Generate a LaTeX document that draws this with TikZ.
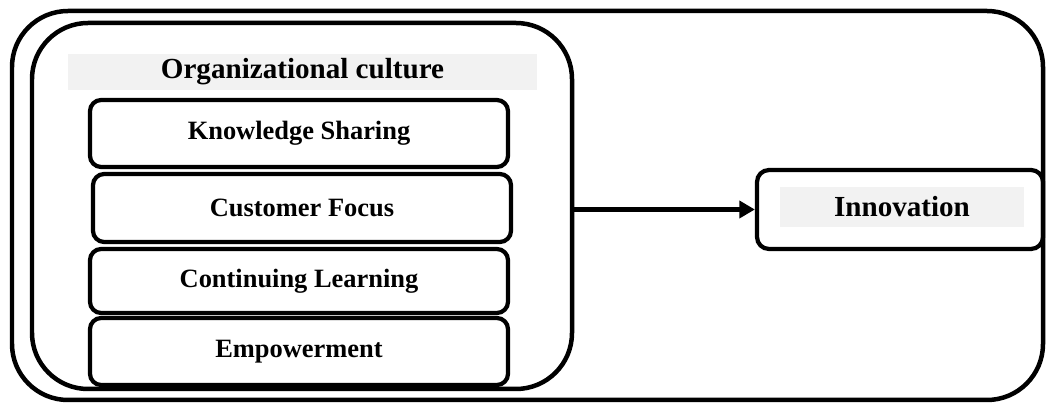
\documentclass[tikz,border=0pt]{standalone}
\usepackage{fontspec}
\setmainfont{Liberation Serif}
\usetikzlibrary{arrows.meta}
\definecolor{bandgray}{HTML}{F2F2F2}

\begin{document}
\begin{tikzpicture}[
	every node/.style={font=\bfseries},
	frame/.style={draw, line width=3.2pt, rounded corners=1.4cm},
	factor/.style={draw, line width=3pt, rounded corners=0.28cm, minimum width=10.45cm, font=\fontsize{18.8}{22}\bfseries},
	band/.style={fill=bandgray, font=\fontsize{20.7}{24}\bfseries}]

	\useasboundingbox (0,0) rectangle (26.15,10.075);

	\node[frame, minimum width=25.775cm, minimum height=9.725cm] (model) at (13.1875,4.9375) {};
	\node[frame, minimum width=13.5cm, minimum height=9.15cm] (culture) at (7.55,4.925) {};

	\node[band, minimum width=11.725cm, minimum height=0.85cm] (title) at (7.5625,8.275) {Organizational culture};

	\node[factor, minimum height=1.675cm] (sharing) at (7.475,6.7375) {Knowledge Sharing};
	\node[factor, minimum height=1.7cm] (customer) at (7.55,4.875) {Customer Focus};
	\node[factor, minimum height=1.6cm] (learning) at (7.475,3.05) {Continuing Learning};
	\node[factor, minimum height=1.675cm] (empower) at (7.475,1.2875) {Empowerment};

	\node[draw, line width=3pt, rounded corners=0.3cm, minimum width=7.15cm, minimum height=1.975cm] (innov) at (22.5,4.8375) {};
	\node[band, minimum width=6.1cm, minimum height=1cm] (innovtext) at (22.55,4.9) {Innovation};

	\draw[line width=3pt, -{Triangle[length=11pt,width=12pt]}] (culture.east |- innov.west) -- (innov.west);

\end{tikzpicture}
\end{document}
